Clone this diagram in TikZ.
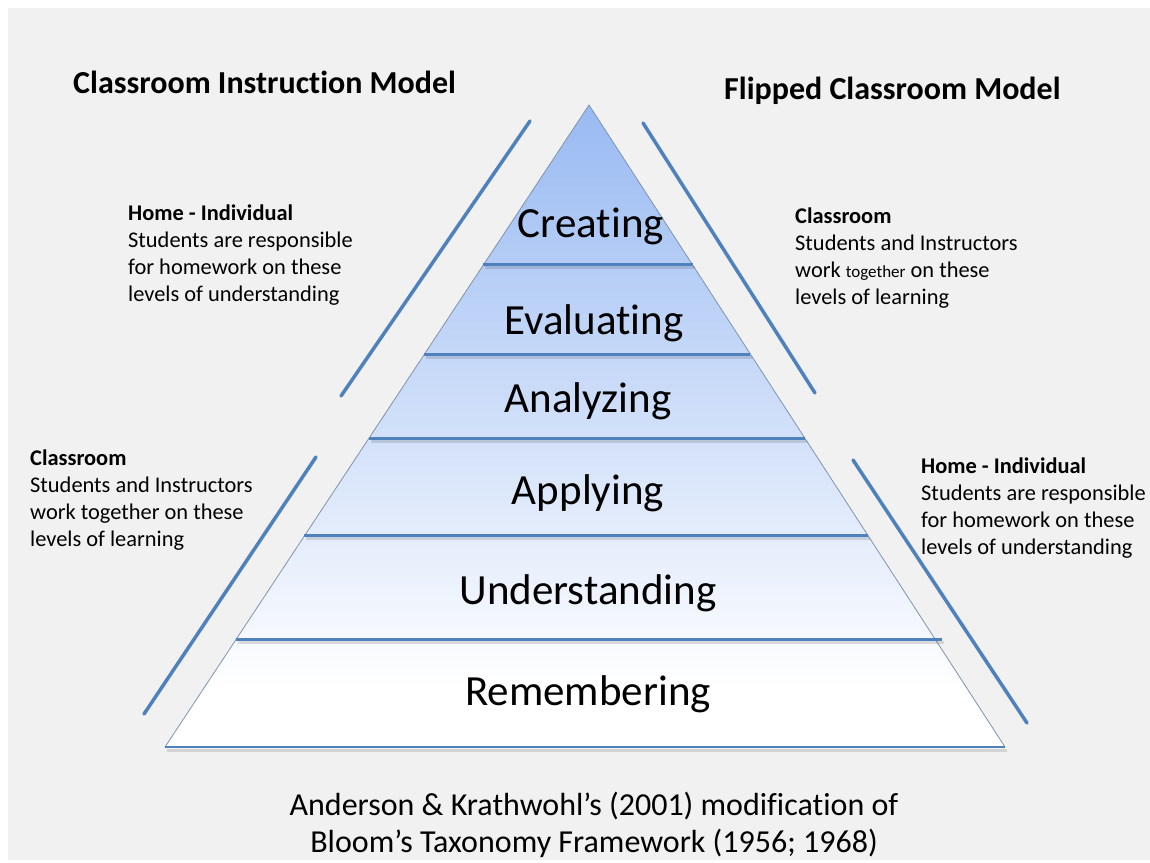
\documentclass[tikz,border=0pt]{standalone}
\usepackage{fontspec}
\setmainfont[Ligatures=NoCommon]{Carlito}
\usepackage{tikz}
\usetikzlibrary{calc}
\definecolor{slidegray}{HTML}{F1F1F1}
\definecolor{lineblue}{HTML}{4F81BD}
\definecolor{topblue}{HTML}{99BAF2}
\definecolor{edgegray}{HTML}{7F93AE}
\tikzstyle{sideline} = [line width=3.5pt, lineblue, line cap=round]
\tikzstyle{levelline} = [line width=3pt, lineblue]
\tikzstyle{lineshadow} = [line width=3pt, black, opacity=0.12]
\tikzstyle{level} = [anchor=base, inner sep=0pt, font=\fontsize{43}{46}\selectfont]
\tikzstyle{note} = [anchor=north west, align=left, inner sep=0pt, font=\fontsize{22.4}{27}\selectfont]
\tikzstyle{title} = [anchor=base west, inner sep=0pt, font=\fontsize{32}{36}\selectfont\bfseries]

\begin{document}
\begin{tikzpicture}[x=1pt, y=-1pt]
			\useasboundingbox (0,0) rectangle (1150,862);
			\fill [white] (0,0) rectangle (1150,862);
			\fill [slidegray] (8,8) rectangle (1150,860);
			
			\coordinate (apex) at (589,105);
			\coordinate (bl) at (165,747);
			\coordinate (br) at (1005,747);
			
			\begin{scope}
				\clip (apex) -- (bl) -- (br) -- cycle;
				\fill [white] (160,100) rectangle (1010,750);
				\shade [top color=topblue, middle color=topblue!70!white, bottom color=white] (160,105) rectangle (1010,690);
			\end{scope}
			\draw [edgegray, line width=0.8pt] (bl) -- (apex) -- (br);
			\draw [lineshadow] ($(bl)+(2,3)$) -- ($(br)+(2,3)$);
			\draw [levelline, line width=2pt] (bl) -- (br);
			
			\draw [lineshadow] ($(apex)!0.249!(bl)+(2,3)$) -- ($(apex)!0.249!(br)+(2,3)$);
			\draw [lineshadow] ($(apex)!0.388!(bl)+(2,3)$) -- ($(apex)!0.388!(br)+(2,3)$);
			\draw [lineshadow] ($(apex)!0.519!(bl)+(2,3)$) -- ($(apex)!0.519!(br)+(2,3)$);
			\draw [lineshadow] ($(apex)!0.671!(bl)+(2,3)$) -- ($(apex)!0.671!(br)+(2,3)$);
			\draw [lineshadow] ($(apex)!0.833!(bl)+(2,3)$) -- ($(apex)!0.833!(br)+(8,3)$);
			\draw [levelline] ($(apex)!0.249!(bl)$) -- ($(apex)!0.249!(br)$);
			\draw [levelline] ($(apex)!0.388!(bl)$) -- ($(apex)!0.388!(br)$);
			\draw [levelline] ($(apex)!0.519!(bl)$) -- ($(apex)!0.519!(br)$);
			\draw [levelline] ($(apex)!0.671!(bl)$) -- ($(apex)!0.671!(br)$);
			\draw [levelline] ($(apex)!0.833!(bl)$) -- ($(apex)!0.833!(br)+(6,0)$);
			
			\node [level] (creating) at (591,237) {Creating};
			\node [level] (evaluating) at (594,334) {Evaluating};
			\node [level] (analyzing) at (588,412) {Analyzing};
			\node [level] (applying) at (588,504) {Applying};
			\node [level] (understanding) at (588,604) {Understanding};
			\node [level] (remembering) at (588,705) {Remembering};
			
			\draw [sideline] (530,121) -- (341,396);
			\draw [sideline] (643,123) -- (815,393);
			\draw [sideline] (316,457) -- (144,714);
			\draw [sideline] (853,460) -- (1027,723);
			
			\node [title] (classic) at (73,93) {Classroom Instruction Model};
			\node [title] (flipped) at (724,99) {Flipped Classroom Model};
			
			\node [note] (homeup) at (128,205) {\textbf{Home - Individual}\\Students are responsible\\for homework on these\\levels of understanding};
			\node [note] (roomup) at (795,208) {\textbf{Classroom}\\Students and Instructors\\work {\fontsize{17}{20}\selectfont together} on these\\levels of learning};
			\node [note] (roomlow) at (30,450) {\textbf{Classroom}\\Students and Instructors\\work together on these\\levels of learning};
			\node [note] (homelow) at (921,458) {\textbf{Home - Individual}\\Students are responsible\\for homework on these\\levels of understanding};
			
			\node [anchor=base, align=center, inner sep=0pt, font=\fontsize{32}{37}\selectfont] (source) at (594,852) {Anderson \& Krathwohl’s (2001) modification of\\Bloom’s Taxonomy Framework (1956; 1968)};
		\end{tikzpicture}
\end{document}
